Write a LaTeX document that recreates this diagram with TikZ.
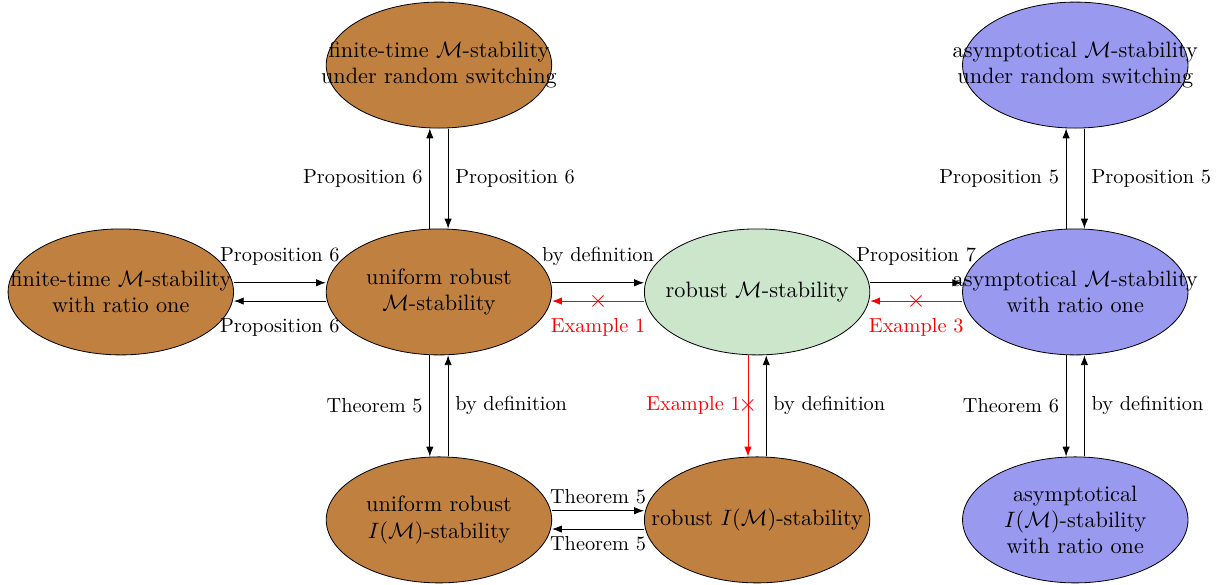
\documentclass[tikz,border=0pt]{standalone}
\usepackage{amsmath}
\usepackage{amssymb}
\usetikzlibrary{arrows.meta,calc,shapes.geometric,positioning}
\definecolor{asymblue}{RGB}{153,153,240}
\definecolor{robgreen}{RGB}{204,230,204}
\tikzset{
  stab/.style={ellipse, draw, align=center, minimum width=3.9cm,
    minimum height=2.18cm, inner xsep=-1.3cm, inner ysep=0pt,
    font=\fontsize{10.95}{13}\selectfont},
  imp/.style={-{Latex}},
  nimp/.style={-{Latex}, red},
  nocross/.style={red, inner sep=0pt, font=\large},
  uplab/.style={midway, above, yshift=5pt},
  downlab/.style={midway, below, yshift=-5pt}
}

\begin{document}
\begin{tikzpicture}
\useasboundingbox (-2.09,-5.07) rectangle (19.12,5.05);

% Draw nodes.
\node[stab, fill=brown] (ftratio) at (0,0) {finite-time $\mathcal{M}$-stability\\with ratio one};
\node[stab, fill=brown, right=1.59cm of ftratio] (urobust) {uniform robust\\$\mathcal{M}$-stability};
\node[stab, fill=robgreen, right=1.59cm of urobust] (robust) {robust $\mathcal{M}$-stability};
\node[stab, fill=asymblue, right=1.59cm of robust] (asratio) {asymptotical $\mathcal{M}$-stability\\with ratio one};
\node[stab, fill=brown, above=1.73cm of urobust] (ftrandom) {finite-time $\mathcal{M}$-stability\\under random switching};
\node[stab, fill=asymblue, above=1.73cm of asratio] (asrandom) {asymptotical $\mathcal{M}$-stability\\under random switching};
\node[stab, fill=brown, below=1.75cm of urobust] (urobustI) {uniform robust\\$I(\mathcal{M})$-stability};
\node[stab, fill=brown, below=1.75cm of robust] (robustI) {robust $I(\mathcal{M})$-stability};
\node[stab, fill=asymblue, below=1.75cm of asratio] (asI) {asymptotical\\$I(\mathcal{M})$-stability\\with ratio one};

% Draw horizontal arrows.
\draw[imp] ([yshift=4.5pt]ftratio.east) -- ([yshift=4.5pt]urobust.west) node[uplab] {Proposition 6};
\draw[imp] ([yshift=-4.5pt]urobust.west) -- ([yshift=-4.5pt]ftratio.east) node[downlab] {Proposition 6};

\draw[imp] ([yshift=4.5pt]urobust.east) -- ([yshift=4.5pt]robust.west) node[uplab] {by definition};
\draw[nimp] ([yshift=-4.5pt]robust.west) -- ([yshift=-4.5pt]urobust.east)
  node[midway, nocross] (x1) {$\times$} node[downlab, red] {Example 1};

\draw[imp] ([yshift=4.5pt]robust.east) -- ([yshift=4.5pt]asratio.west) node[uplab] {Proposition 7};
\draw[nimp] ([yshift=-4.5pt]asratio.west) -- ([yshift=-4.5pt]robust.east)
  node[midway, nocross] (x3) {$\times$} node[downlab, red] {Example 3};

\draw[imp] ([yshift=4.5pt]urobustI.east) -- ([yshift=4.5pt]robustI.west) node[midway, above] {Theorem 5};
\draw[imp] ([yshift=-4.5pt]robustI.west) -- ([yshift=-4.5pt]urobustI.east) node[midway, below] {Theorem 5};

% Draw vertical arrows.
\draw[imp] ([xshift=-4.5pt]urobust.north) -- ([xshift=-4.5pt]ftrandom.south) node[midway, left] {Proposition 6};
\draw[imp] ([xshift=4.5pt]ftrandom.south) -- ([xshift=4.5pt]urobust.north) node[midway, right] {Proposition 6};

\draw[imp] ([xshift=-4.5pt]urobust.south) -- ([xshift=-4.5pt]urobustI.north) node[midway, left] {Theorem 5};
\draw[imp] ([xshift=4.5pt]urobustI.north) -- ([xshift=4.5pt]urobust.south) node[midway, right] {by definition};

\draw[nimp] ([xshift=-4.5pt]robust.south) -- ([xshift=-4.5pt]robustI.north)
  node[midway, nocross] (x2) {$\times$} node[midway, left, red] {Example 1};
\draw[imp] ([xshift=4.5pt]robustI.north) -- ([xshift=4.5pt]robust.south) node[midway, right] {by definition};

\draw[imp] ([xshift=-4.5pt]asratio.north) -- ([xshift=-4.5pt]asrandom.south) node[midway, left] {Proposition 5};
\draw[imp] ([xshift=4.5pt]asrandom.south) -- ([xshift=4.5pt]asratio.north) node[midway, right] {Proposition 5};

\draw[imp] ([xshift=-4.5pt]asratio.south) -- ([xshift=-4.5pt]asI.north) node[midway, left] {Theorem 6};
\draw[imp] ([xshift=4.5pt]asI.north) -- ([xshift=4.5pt]asratio.south) node[midway, right] {by definition};
\end{tikzpicture}
\end{document}
